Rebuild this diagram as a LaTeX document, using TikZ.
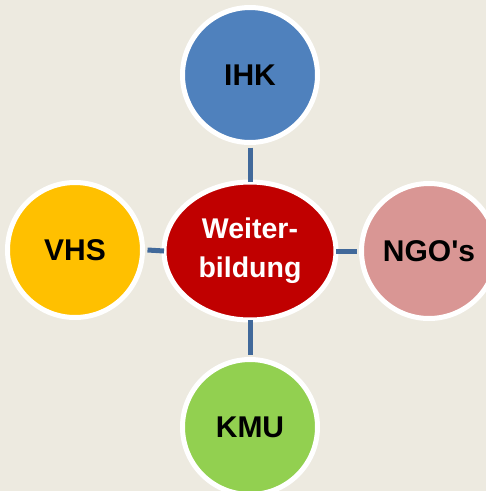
\documentclass[tikz,border=0pt]{standalone}
\usepackage{fontspec}
\setmainfont{Liberation Sans}[Ligatures=TeXOff]
\usetikzlibrary{shapes.geometric}
\definecolor{bg}{HTML}{EDEAE0}
\definecolor{link}{HTML}{41699A}
\definecolor{cred}{HTML}{C00000}
\definecolor{cblue}{HTML}{4F81BD}
\definecolor{cyellow}{HTML}{FFC000}
\definecolor{cpink}{HTML}{D99694}
\definecolor{cgreen}{HTML}{92D050}
\begin{document}
\begin{tikzpicture}[x=1pt,y=-1pt,
  sat/.style={circle,draw=white,line width=5pt,minimum size=135pt,inner sep=0pt,
    font=\fontsize{30}{33}\selectfont\bfseries,text=black},
  hub/.style={ellipse,draw=white,line width=5pt,minimum width=172pt,minimum height=138pt,
    inner sep=0pt,fill=cred,text=white,align=center,
    font=\fontsize{28.5}{39}\selectfont\bfseries},
  conn/.style={draw=link,line width=5pt}]
\fill[bg] (0,0) rectangle (486,491);
\clip (0,0) rectangle (486,491);
\node[hub] (c) at (250,251) {Weiter-\\bildung};
\node[sat,fill=cblue] (ihk) at (250,75) {IHK};
\node[sat,fill=cyellow] (vhs) at (75,250) {VHS};
\node[sat,fill=cpink] (ngo) at (429,251) {NGO's};
\node[sat,fill=cgreen] (kmu) at (250,427) {KMU};
\draw[conn] (ihk.south) ++(0,2.5) -- ([yshift=-2.5pt]c.north);
\draw[conn] (kmu.north) ++(0,-2.5) -- ([yshift=2.5pt]c.south);
\draw[conn] (vhs.east) ++(2.5,0) -- ([xshift=2.5pt]c.west);
\draw[conn] (ngo.west) ++(-2.5,0) -- ([xshift=-2.5pt]c.east);
\end{tikzpicture}
\end{document}
